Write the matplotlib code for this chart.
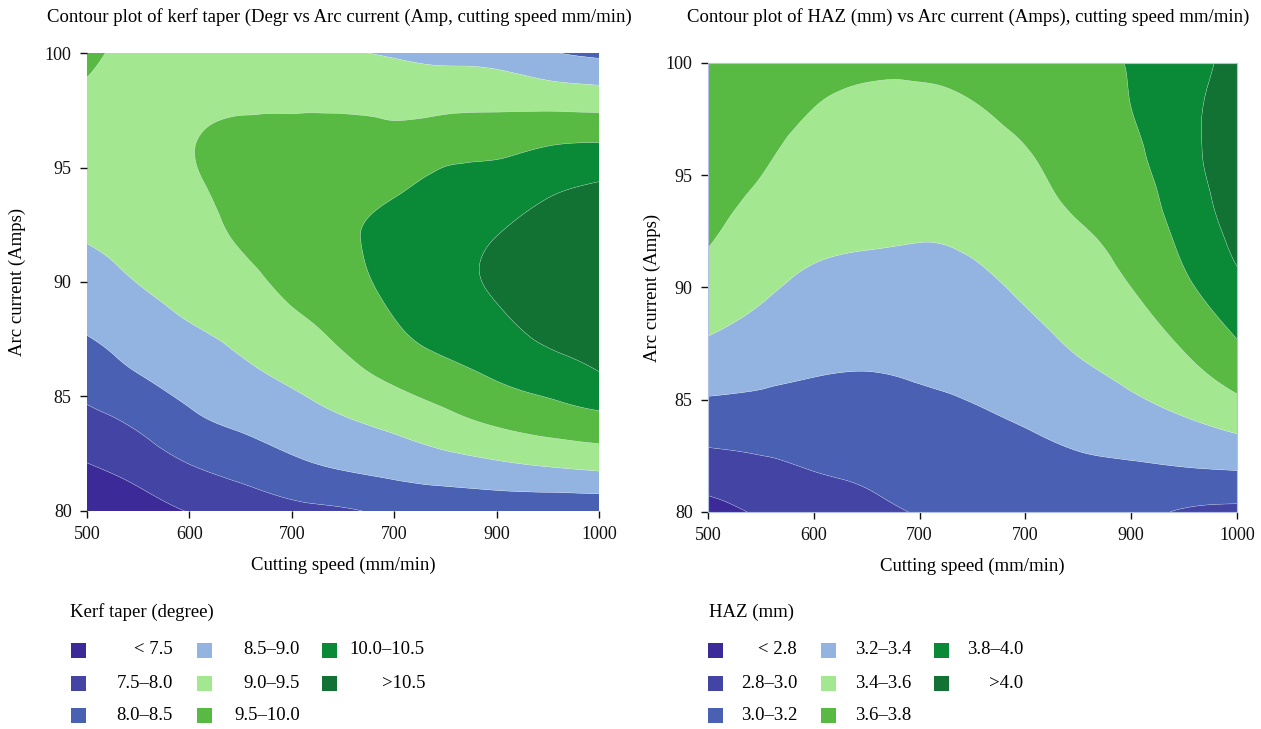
import numpy as np
import matplotlib
matplotlib.use("Agg")
import matplotlib.pyplot as plt
import matplotlib.tri as mtri
from matplotlib.patches import Rectangle

plt.rcParams['font.family'] = ['Liberation Serif', 'DejaVu Serif']

# ---------------- data ----------------
speed = [500, 550, 600, 650, 700, 750, 800, 850, 900, 950, 1000]
amps = [80, 82, 84, 86, 88, 90, 92, 94, 96, 98, 100]
x_tick_vals = [500, 600, 700, 800, 900, 1000]
x_tick_labels = ["500", "600", "700", "700", "900", "1000"]
y_tick_vals = [80, 85, 90, 95, 100]

# kerf taper (degree): one list per cutting speed, values from 80 to 100 Amps
kerf_500 = [7.08, 7.48, 7.88, 8.23, 8.55, 8.81, 9.03, 9.17, 9.30, 9.44, 9.57]
kerf_550 = [7.25, 7.70, 8.11, 8.50, 8.76, 9.01, 9.15, 9.28, 9.35, 9.38, 9.40]
kerf_600 = [7.52, 7.99, 8.42, 8.70, 8.97, 9.18, 9.32, 9.43, 9.48, 9.40, 9.35]
kerf_650 = [7.66, 8.19, 8.60, 8.90, 9.14, 9.35, 9.55, 9.62, 9.60, 9.43, 9.30]
kerf_700 = [7.85, 8.40, 8.78, 9.10, 9.38, 9.62, 9.75, 9.78, 9.68, 9.40, 9.12]
kerf_750 = [7.94, 8.56, 8.97, 9.35, 9.62, 9.82, 9.92, 9.90, 9.75, 9.37, 9.03]
kerf_800 = [8.10, 8.67, 9.15, 9.62, 9.95, 10.15, 10.18, 9.95, 9.65, 9.35, 8.95]
kerf_850 = [8.13, 8.80, 9.38, 9.85, 10.22, 10.38, 10.38, 10.20, 9.78, 9.35, 8.85]
kerf_900 = [8.16, 8.92, 9.60, 10.06, 10.38, 10.56, 10.50, 10.27, 9.85, 9.35, 8.80]
kerf_950 = [8.11, 9.03, 9.75, 10.25, 10.65, 10.78, 10.70, 10.44, 9.98, 9.30, 8.55]
kerf_1000 = [8.09, 9.12, 9.87, 10.48, 10.75, 10.85, 10.80, 10.58, 10.03, 9.25, 8.40]
kerf_levels = [0, 7.5, 8.0, 8.5, 9.0, 9.5, 10.0, 10.5, 20]
kerf_labels = ["< 7.5", "7.5\u20138.0", "8.0\u20138.5", "8.5\u20139.0", "9.0\u20139.5",
               "9.5\u201310.0", "10.0\u201310.5", ">10.5"]

# HAZ (mm): one list per cutting speed, values from 80 to 100 Amps
haz_500 = [2.73, 2.92, 3.10, 3.27, 3.41, 3.51, 3.61, 3.66, 3.70, 3.73, 3.76]
haz_550 = [2.82, 2.96, 3.11, 3.23, 3.34, 3.43, 3.50, 3.57, 3.63, 3.68, 3.72]
haz_600 = [2.88, 3.01, 3.10, 3.20, 3.28, 3.36, 3.43, 3.49, 3.54, 3.60, 3.66]
haz_650 = [2.96, 3.04, 3.12, 3.19, 3.27, 3.34, 3.41, 3.46, 3.52, 3.57, 3.63]
haz_700 = [3.01, 3.08, 3.14, 3.21, 3.27, 3.34, 3.40, 3.45, 3.51, 3.57, 3.62]
haz_750 = [3.06, 3.11, 3.17, 3.24, 3.30, 3.36, 3.42, 3.47, 3.53, 3.59, 3.66]
haz_800 = [3.08, 3.14, 3.21, 3.29, 3.36, 3.43, 3.49, 3.54, 3.59, 3.66, 3.72]
haz_850 = [3.08, 3.17, 3.26, 3.36, 3.44, 3.51, 3.57, 3.63, 3.68, 3.73, 3.78]
haz_900 = [3.06, 3.18, 3.32, 3.43, 3.52, 3.60, 3.66, 3.71, 3.76, 3.80, 3.81]
haz_950 = [2.98, 3.20, 3.38, 3.53, 3.65, 3.76, 3.84, 3.90, 3.94, 3.95, 3.94]
haz_1000 = [2.95, 3.22, 3.46, 3.67, 3.82, 3.95, 4.04, 4.08, 4.09, 4.07, 4.03]
haz_levels = [0, 2.8, 3.0, 3.2, 3.4, 3.6, 3.8, 4.0, 10]
haz_labels = ["< 2.8", "2.8\u20133.0", "3.0\u20133.2", "3.2\u20133.4", "3.4\u20133.6",
              "3.6\u20133.8", "3.8\u20134.0", ">4.0"]

colors = ["#3b2a97", "#4444a4", "#4a60b2", "#93b4e0", "#a3e891",
          "#58ba42", "#0a8a37", "#117233"]

kerf = np.array([kerf_500, kerf_550, kerf_600, kerf_650, kerf_700, kerf_750,
                 kerf_800, kerf_850, kerf_900, kerf_950, kerf_1000]).T
haz = np.array([haz_500, haz_550, haz_600, haz_650, haz_700, haz_750,
                haz_800, haz_850, haz_900, haz_950, haz_1000]).T

# ---------------- figure ----------------
W, H = 1261, 729
fig = plt.figure(figsize=(W / 100, H / 100), dpi=100)


def fx(px):
    return px / W


def fy(py):
    return 1 - py / H


ax1 = fig.add_axes([fx(87), fy(511), fx(599 - 87), (511 - 53) / H])
ax2 = fig.add_axes([fx(708), fy(512), fx(1237 - 708), (512 - 63) / H])

TICK_FS = 13
LABEL_FS = 13.5
TITLE_FS = 13.5
LEG_FS = 13.5

sx = np.asarray(speed, float)
sy = np.asarray(amps, float)
GX, GY = np.meshgrid((sx - sx[0]) / (sx[-1] - sx[0]), (sy - sy[0]) / (sy[-1] - sy[0]))
tri = mtri.Triangulation(GX.ravel(), GY.ravel())
refiner = mtri.UniformTriRefiner(tri)

for ax, Z, lv, edge, ylx in [(ax1, kerf, kerf_levels, None, (26 - 87) / 512),
                             (ax2, haz, haz_levels, "#b4c0e4", (661 - 708) / 529)]:
    interp = mtri.CubicTriInterpolator(tri, Z.ravel(), kind="min_E")
    tri_f, z_f = refiner.refine_field(Z.ravel(), triinterpolator=interp, subdiv=4)
    tri_d = mtri.Triangulation(sx[0] + tri_f.x * (sx[-1] - sx[0]),
                               sy[0] + tri_f.y * (sy[-1] - sy[0]), tri_f.triangles)
    ax.tricontourf(tri_d, z_f, levels=lv, colors=colors, antialiased=True)
    ax.tricontour(tri_d, z_f, levels=lv[1:-1], colors="#e8eef8", linewidths=0.3, alpha=0.6)
    ax.set_xlim(500, 1000)
    ax.set_ylim(80, 100)
    ax.set_xticks(x_tick_vals)
    ax.set_xticklabels(x_tick_labels)
    ax.set_yticks(y_tick_vals)
    ax.tick_params(direction="out", length=5, width=1, labelsize=TICK_FS, pad=6, colors="#111111")
    for s in ax.spines.values():
        if edge is None:
            s.set_visible(False)
        else:
            s.set_color(edge)
            s.set_linewidth(0.8)
    ax.set_xlabel("Cutting speed (mm/min)", fontsize=LABEL_FS, labelpad=10)
    ax.set_ylabel("Arc current (Amps)", fontsize=LABEL_FS)
    ax.yaxis.set_label_coords(ylx, 0.5)

fig.text(fx(339), fy(17), "Contour plot of kerf taper (Degr vs Arc current (Amp, cutting speed mm/min)",
         ha="center", va="center", fontsize=TITLE_FS)
fig.text(fx(968), fy(17), "Contour plot of HAZ (mm) vs Arc current (Amps), cutting speed mm/min)",
         ha="center", va="center", fontsize=TITLE_FS)

# ---------------- legends ----------------
def legend(title, tx, sq_x, lab_x, labels):
    fig.text(fx(tx), fy(612), title, ha="left", va="center", fontsize=LEG_FS)
    rows = [650, 683, 715]
    for i, lab in enumerate(labels):
        c, r = divmod(i, 3)
        yc = rows[r]
        fig.patches.append(Rectangle((fx(sq_x[c]), fy(yc + 7.5)), 15 / W, 15 / H,
                                     transform=fig.transFigure, facecolor=colors[i],
                                     edgecolor="none"))
        fig.text(fx(lab_x[c]), fy(yc), lab, ha="right", va="center", fontsize=LEG_FS)


legend("Kerf taper (degree)", 70, [71, 197, 322], [173, 300, 425], kerf_labels)
legend("HAZ (mm)", 709, [708, 821, 934], [797, 911, 1023], haz_labels)

fig.savefig("out.png", dpi=100)
